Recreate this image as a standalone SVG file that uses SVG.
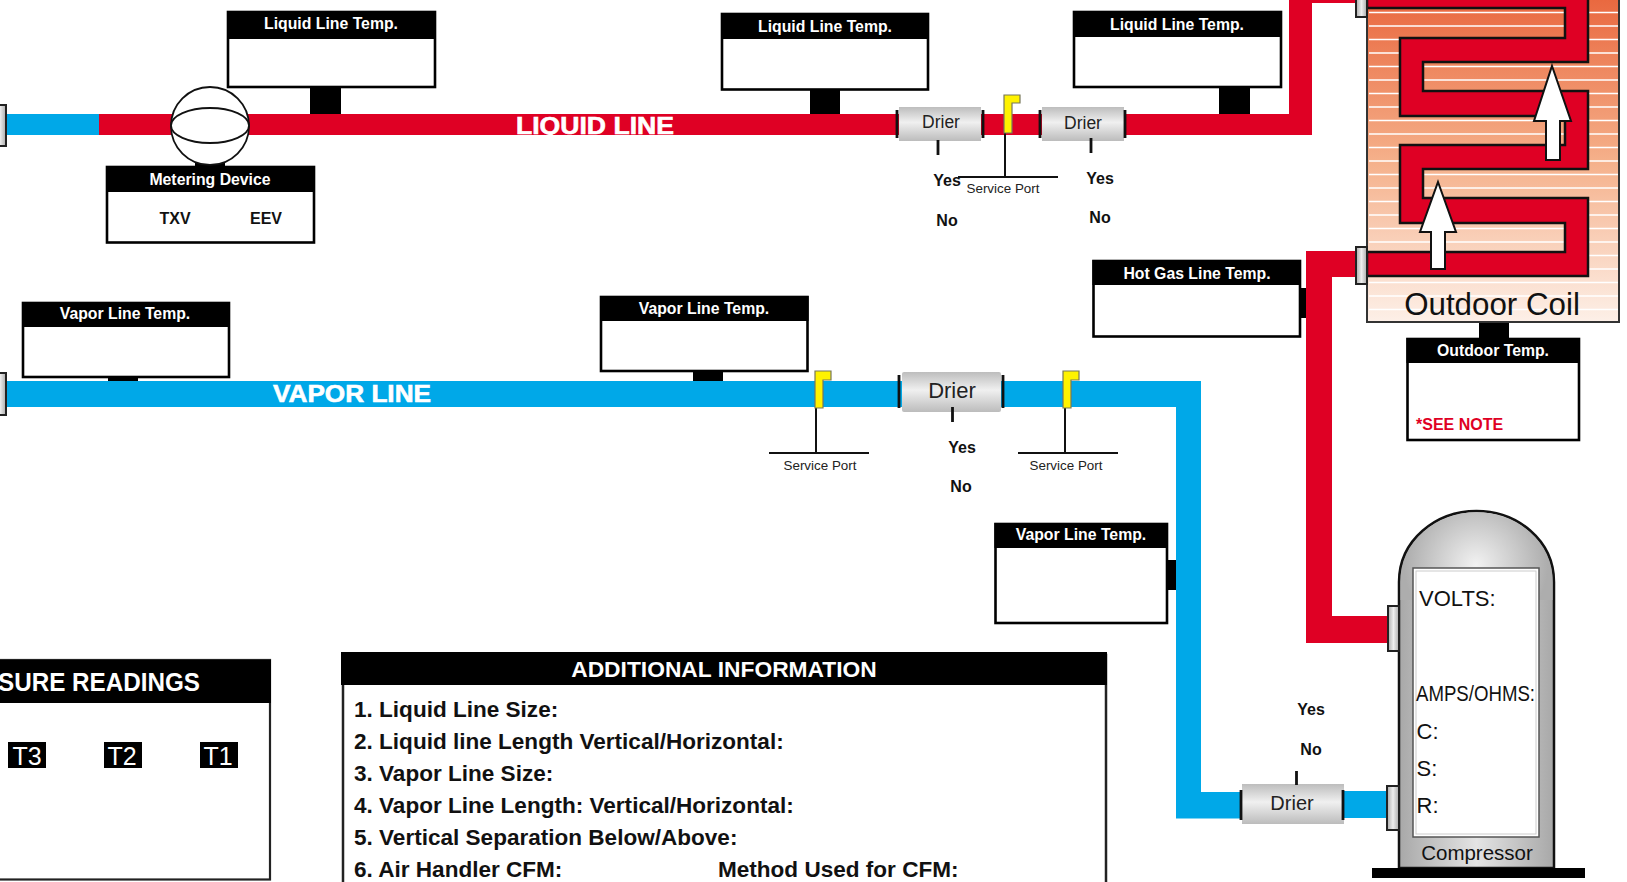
<svg xmlns="http://www.w3.org/2000/svg" width="1627" height="882" viewBox="0 0 1627 882">
<style>
text{font-family:"Liberation Sans",Arial,Helvetica,sans-serif;fill:#111}
.box{fill:#fff;stroke:#000;stroke-width:2.6}
.hd{fill:#000}
.ht{fill:#fff;font-weight:700;font-size:15.800px;text-anchor:middle}
.b{font-weight:700;font-size:16px;text-anchor:middle}
.red{fill:#df0024}
.blue{fill:#00a8e8}
.flag{fill:#fff200;stroke:#77775a;stroke-width:1.200}
.ln{stroke:#111;stroke-width:2;fill:none}
.tick{stroke:#111;stroke-width:2.800}
.sp{font-size:13.400px;text-anchor:middle;fill:#222}
.dt{text-anchor:middle;fill:#222}
.conn{fill:url(#gh);stroke:#222;stroke-width:2}
.dr{fill:url(#gv)}
.info{font-weight:700;font-size:22.550px}
.cp{font-size:22px}
.fin{stroke:#fff;stroke-width:1.300}
.pipe{font-weight:700;font-size:24px;text-anchor:middle;fill:#fff;stroke:#fff;stroke-width:.6}
</style>
<defs>
<linearGradient id="gv" x1="0" y1="0" x2="0" y2="1"><stop offset="0" stop-color="#bdbdbd"/><stop offset=".45" stop-color="#f0f0f0"/><stop offset="1" stop-color="#bcbcbc"/></linearGradient>
<linearGradient id="gh" x1="0" y1="0" x2="1" y2="0"><stop offset="0" stop-color="#aaa"/><stop offset=".5" stop-color="#eee"/><stop offset="1" stop-color="#aaa"/></linearGradient>
<linearGradient id="coil" x1="0" y1="0" x2="0" y2="1"><stop offset="0" stop-color="#e9683f"/><stop offset=".5" stop-color="#f5b08a"/><stop offset="1" stop-color="#fdf0e8"/></linearGradient>
<linearGradient id="body" x1="0" y1="0" x2="1" y2="0"><stop offset="0" stop-color="#a8a8a8"/><stop offset=".5" stop-color="#e4e4e4"/><stop offset="1" stop-color="#a8a8a8"/></linearGradient>
<radialGradient id="dome" gradientUnits="userSpaceOnUse" cx="1476" cy="565" r="72"><stop offset="0" stop-color="#f2f2f2"/><stop offset="1" stop-color="#adadad"/></radialGradient>
</defs>

<g id="connectors">
<rect class="blue" x="7" y="114" width="92" height="21"/>
<path class="red" d="M99 114H1289V0H1357V3H1312V135H99Z"/>
<path class="blue" d="M7 381H1201V792H1242V818.500H1176V407H7Z"/>
<rect class="blue" x="1344" y="791" width="44" height="27"/>
<path class="red" d="M1360 251H1306V643H1388V616H1332V277H1360Z"/>
<text class="pipe" x="595" y="134" textLength="158" lengthAdjust="spacingAndGlyphs">LIQUID LINE</text>
<text class="pipe" x="352" y="402" textLength="158" lengthAdjust="spacingAndGlyphs">VAPOR LINE</text>
<rect class="conn" x="-6" y="105" width="12" height="41"/>
<rect class="conn" x="-6" y="373" width="12" height="42"/>
<rect class="hd" x="310" y="88" width="31" height="26"/>
<rect class="hd" x="810" y="90" width="30" height="24"/>
<rect class="hd" x="1219" y="88" width="31" height="26"/>
<rect class="hd" x="108" y="377" width="30" height="4"/>
<rect class="hd" x="693" y="371" width="30" height="10"/>
<rect class="hd" x="1168" y="560" width="8" height="30"/>
<rect class="hd" x="1301" y="288" width="5" height="30"/>
<rect class="hd" x="1479" y="322" width="30" height="16"/>
<rect class="hd" x="195" y="160" width="30" height="7"/>
</g>

<g id="outdoor-coil">
<rect x="1367" y="-2" width="252" height="324" fill="url(#coil)" stroke="#333" stroke-width="2"/>
<path class="fin" d="M1369 12.500H1618M1369 26H1618M1369 39.500H1618M1369 53H1618M1369 66.500H1618M1369 80H1618M1369 93.500H1618M1369 107H1618M1369 120.500H1618M1369 134H1618M1369 147.500H1618M1369 161H1618M1369 174.500H1618M1369 188H1618M1369 201.500H1618M1369 215H1618M1369 228.500H1618M1369 242H1618M1369 255.500H1618M1369 269H1618M1369 282.500H1618M1369 296H1618M1369 309.500H1618"/>
<path class="red" stroke="#111" stroke-width="2.500" d="M1367 -5V8H1565V38H1400V116H1565V145H1400V223H1565V252H1367V276H1588V198H1423V169H1588V91H1423V62H1588V-5Z"/>
<path fill="#fff" stroke="#111" stroke-width="2" d="M1552 66L1571 121H1560V160H1546V121H1534Z"/>
<path fill="#fff" stroke="#111" stroke-width="2" d="M1438 182L1456 232H1445V269H1431V232H1420Z"/>
<rect class="conn" x="1356" y="-4" width="11" height="21"/>
<rect class="conn" x="1356" y="247" width="11" height="37"/>
<text x="1492" y="315" text-anchor="middle" font-size="31.300">Outdoor Coil</text>
</g>

<g id="liquid-temp-1">
<rect class="box" x="228" y="12" width="207" height="75"/><rect class="hd" x="227" y="11" width="209" height="28"/>
<text class="ht" x="331" y="29">Liquid Line Temp.</text>
</g>
<g id="liquid-temp-2">
<rect class="box" x="722" y="14" width="206" height="75.500"/><rect class="hd" x="721" y="13" width="208" height="26"/>
<text class="ht" x="825" y="32">Liquid Line Temp.</text>
</g>
<g id="liquid-temp-3">
<rect class="box" x="1074" y="12" width="207" height="75"/><rect class="hd" x="1073" y="11" width="209" height="26"/>
<text class="ht" x="1177" y="30">Liquid Line Temp.</text>
</g>

<g id="metering-device">
<circle cx="210" cy="126" r="39" fill="#fff" stroke="#111" stroke-width="1.800"/>
<ellipse cx="210" cy="125.500" rx="39" ry="17.500" fill="#fff" stroke="#111" stroke-width="1.800"/>
<rect class="box" x="107" y="167" width="207" height="75.500"/><rect class="hd" x="106" y="166" width="209" height="26"/>
<text class="ht" x="210" y="185">Metering Device</text>
<text class="b" x="175" y="224">TXV</text>
<text class="b" x="266" y="224">EEV</text>
</g>

<g id="drier-liquid-1">
<rect class="dr" x="899" y="107" width="82" height="34"/>
<path class="tick" d="M897 110V138M983 110V138M938 140V155"/>
<text class="dt" x="941" y="128" font-size="17.500">Drier</text>
<text class="b" x="947" y="186">Yes</text><text class="b" x="947" y="226">No</text>
</g>
<g id="service-port-liquid">
<path class="ln" d="M1005 133V177M958 177H1058"/>
<path class="flag" d="M1004 95H1020V103H1012V133H1004Z"/>
<text class="sp" x="1003" y="193">Service Port</text>
</g>
<g id="drier-liquid-2">
<rect class="dr" x="1042" y="107" width="82" height="34"/>
<path class="tick" d="M1040 110V138M1125 110V138M1091 138V153"/>
<text class="dt" x="1083" y="129" font-size="17.500">Drier</text>
<text class="b" x="1100" y="184">Yes</text><text class="b" x="1100" y="223">No</text>
</g>

<g id="vapor-temp-1">
<rect class="box" x="23" y="303" width="206" height="74"/><rect class="hd" x="22" y="302" width="208" height="25"/>
<text class="ht" x="125" y="319">Vapor Line Temp.</text>
</g>
<g id="vapor-temp-2">
<rect class="box" x="601" y="297" width="206.500" height="74"/><rect class="hd" x="600" y="296" width="208.500" height="25"/>
<text class="ht" x="704" y="314">Vapor Line Temp.</text>
</g>
<g id="vapor-temp-3">
<rect class="box" x="995.500" y="524" width="171.500" height="99"/><rect class="hd" x="994.500" y="523" width="173.500" height="25"/>
<text class="ht" x="1081" y="540">Vapor Line Temp.</text>
</g>
<g id="hot-gas-temp">
<rect class="box" x="1093.500" y="261" width="206.500" height="75.500"/><rect class="hd" x="1092.500" y="260" width="208.500" height="25"/>
<text class="ht" x="1197" y="279">Hot Gas Line Temp.</text>
</g>
<g id="outdoor-temp">
<rect class="box" x="1407.500" y="339" width="171.500" height="101"/><rect class="hd" x="1406.500" y="338" width="173.500" height="25"/>
<text class="ht" x="1493" y="356">Outdoor Temp.</text>
<text x="1416" y="430" font-size="16" font-weight="700" style="fill:#df0024">*SEE NOTE</text>
</g>

<g id="service-port-vapor-1">
<path class="ln" d="M816 408V453M769 453H869"/>
<path class="flag" d="M815 371H831V380H823V408H815Z"/>
<text class="sp" x="820" y="470">Service Port</text>
</g>
<g id="drier-vapor">
<rect class="dr" x="902" y="372" width="99" height="40" rx="2"/>
<path class="tick" d="M899 375V408M1003 375V408M952.500 407V422"/>
<text class="dt" x="952" y="397.500" font-size="22">Drier</text>
<text class="b" x="962" y="453">Yes</text><text class="b" x="961" y="492">No</text>
</g>
<g id="service-port-vapor-2">
<path class="ln" d="M1065 408V453M1018 453H1118"/>
<path class="flag" d="M1063 371H1079V380H1071V408H1063Z"/>
<text class="sp" x="1066" y="470">Service Port</text>
</g>
<g id="drier-compressor">
<rect class="dr" x="1242" y="784" width="102" height="40"/>
<path class="tick" d="M1241 790V820M1343 790V820M1296.500 771V785"/>
<text class="dt" x="1292" y="810" font-size="20">Drier</text>
<text class="b" x="1311" y="715">Yes</text><text class="b" x="1311" y="755">No</text>
</g>

<g id="compressor">
<path fill="url(#body)" stroke="#111" stroke-width="2.500" d="M1399 868V582C1399 540 1436 511 1476.500 511C1517 511 1554 540 1554 582V868Z"/>
<path fill="url(#dome)" d="M1400.500 600V582C1400.500 541 1437 512.300 1476.500 512.300C1516 512.300 1552.500 541 1552.500 582V600Z"/>
<rect x="1413" y="568" width="126" height="269" fill="#fff" stroke="#555" stroke-width="1.500"/>
<rect x="1416" y="571" width="120" height="263" fill="none" stroke="#ccc" stroke-width="1"/>
<rect class="hd" x="1372" y="868" width="213" height="10"/>
<rect class="conn" x="1388" y="606" width="11" height="45"/>
<rect class="conn" x="1387" y="786" width="12" height="44"/>
<text class="cp" x="1419" y="606">VOLTS:</text>
<text class="cp" x="1416" y="701" textLength="119" lengthAdjust="spacingAndGlyphs">AMPS/OHMS:</text>
<text class="cp" x="1416.500" y="739">C:</text>
<text class="cp" x="1416.500" y="776">S:</text>
<text class="cp" x="1416.500" y="813">R:</text>
<text x="1477" y="860" text-anchor="middle" font-size="20.500">Compressor</text>
</g>

<g id="pressure-readings">
<rect x="-5" y="660" width="275" height="219.500" fill="#fff" stroke="#222" stroke-width="2.200"/>
<rect class="hd" x="-5" y="660" width="276" height="43"/>
<text x="-2" y="691" font-size="25" font-weight="700" style="fill:#fff" textLength="202" lengthAdjust="spacingAndGlyphs">SURE READINGS</text>
<rect class="hd" x="8" y="742" width="38" height="26"/><rect class="hd" x="104" y="742" width="38" height="26"/><rect class="hd" x="200" y="742" width="38" height="26"/>
<text x="27" y="765" text-anchor="middle" font-size="25" style="fill:#fff">T3</text>
<text x="122" y="765" text-anchor="middle" font-size="25" style="fill:#fff">T2</text>
<text x="218" y="765" text-anchor="middle" font-size="25" style="fill:#fff">T1</text>
</g>

<g id="additional-information">
<rect x="343" y="655" width="763" height="240" fill="#fff" stroke="#222" stroke-width="2.500"/>
<rect class="hd" x="341" y="652" width="766" height="33"/>
<text x="724" y="677" text-anchor="middle" font-size="22.800" font-weight="700" style="fill:#fff">ADDITIONAL INFORMATION</text>
<text class="info" x="354" y="717">1. Liquid Line Size:</text>
<text class="info" x="354" y="749">2. Liquid line Length Vertical/Horizontal:</text>
<text class="info" x="354" y="781">3. Vapor Line Size:</text>
<text class="info" x="354" y="813">4. Vapor Line Length: Vertical/Horizontal:</text>
<text class="info" x="354" y="845">5. Vertical Separation Below/Above:</text>
<text class="info" x="354" y="877">6. Air Handler CFM:</text>
<text class="info" x="718" y="877">Method Used for CFM:</text>
</g>
</svg>
